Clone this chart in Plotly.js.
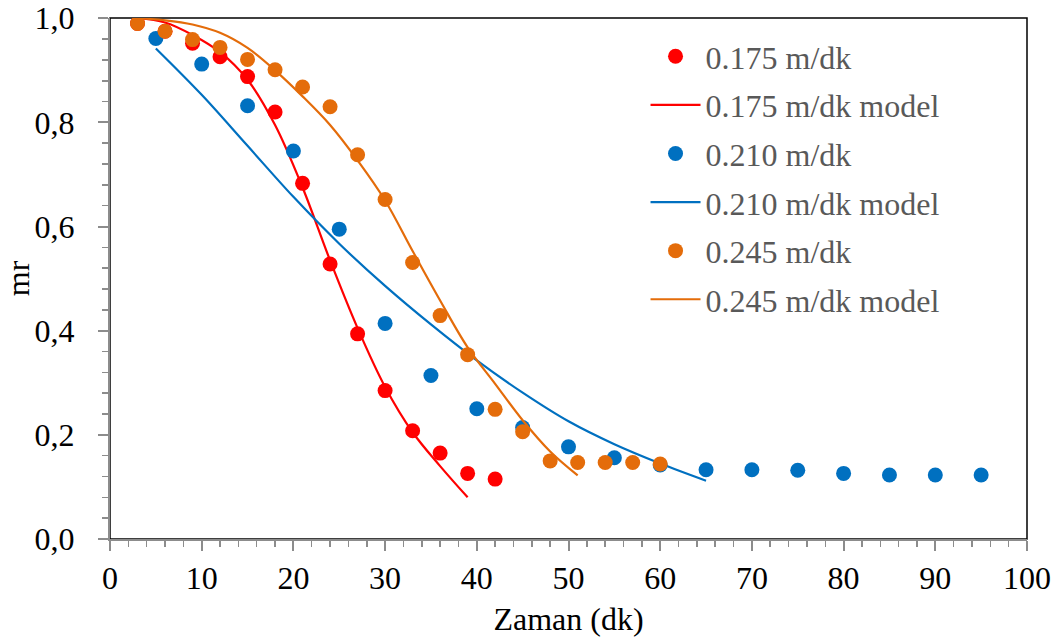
<!DOCTYPE html>
<html>
<head>
<meta charset="utf-8">
<script src="https://cdn.plot.ly/plotly-3.0.1.min.js"></script>
<style>html,body{margin:0;padding:0;background:#fff;}#chart{width:1057px;height:644px;}</style>
</head>
<body>
<div id="chart"></div>
<script>
// Experimental data
const x175 = [3, 6, 9, 12, 15, 18, 21, 24, 27, 30, 33, 36, 39, 42];
const y175 = [0.99, 0.975, 0.952, 0.926, 0.888, 0.820, 0.683, 0.528, 0.394, 0.285, 0.208, 0.165, 0.126, 0.115];
const x175m = [3, 6, 9, 12, 15, 18, 21, 24, 27, 30, 33, 36, 39];
const y175m = [1.0, 0.992, 0.968, 0.935, 0.882, 0.795, 0.675, 0.535, 0.405, 0.292, 0.205, 0.14, 0.08];

const x210 = [5, 10, 15, 20, 25, 30, 35, 40, 45, 50, 55, 60, 65, 70, 75, 80, 85, 90, 95];
const y210 = [0.961, 0.912, 0.832, 0.745, 0.595, 0.414, 0.314, 0.250, 0.214, 0.177, 0.156, 0.142, 0.133, 0.133, 0.132, 0.126, 0.123, 0.123, 0.123];
const x210m = [5, 10, 15, 20, 25, 30, 35, 40, 45, 50, 55, 60, 65];
const y210m = [0.942, 0.853, 0.755, 0.657, 0.567, 0.486, 0.412, 0.343, 0.281, 0.226, 0.182, 0.145, 0.112];

const x245 = [3, 6, 9, 12, 15, 18, 21, 24, 27, 30, 33, 36, 39, 42, 45, 48, 51, 54, 57, 60];
const y245 = [0.990, 0.975, 0.959, 0.944, 0.921, 0.901, 0.868, 0.830, 0.738, 0.652, 0.531, 0.429, 0.354, 0.249, 0.206, 0.150, 0.147, 0.147, 0.147, 0.144];
const x245m = [3, 6, 9, 12, 15, 18, 21, 24, 27, 30, 33, 36, 39, 42, 45, 48, 51];
const y245m = [1.0, 0.996, 0.988, 0.972, 0.943, 0.900, 0.850, 0.795, 0.727, 0.650, 0.553, 0.458, 0.368, 0.298, 0.228, 0.168, 0.122];

const names = ["0.175 m/dk", "0.175 m/dk model", "0.210 m/dk", "0.210 m/dk model", "0.245 m/dk", "0.245 m/dk model"];
const cRed = "#FF0000", cBlue = "#0070C0", cOrange = "#E46C0A";

const font = "Liberation Serif, Times New Roman, serif";
const FS = 32;
const mk = (x, y, name, color, g) => ({x, y, name, legendgroup: g, type: "scatter", mode: "markers",
  marker: {color, size: 15, line: {width: 0}}});
const ln = (x, y, name, color, g) => ({x, y, name, legendgroup: g, type: "scatter", mode: "lines",
  line: {color, width: 2.2, shape: "spline", smoothing: 1}});

const data = [
  mk(x175, y175, names[0], cRed, "a"),
  ln(x175m, y175m, names[1], cRed, "b"),
  mk(x210, y210, names[2], cBlue, "c"),
  ln(x210m, y210m, names[3], cBlue, "d"),
  mk(x245, y245, names[4], cOrange, "e"),
  ln(x245m, y245m, names[5], cOrange, "f")
];

const axisGray = "#8C8C8C";
const layout = {
  width: 1057, height: 644,
  margin: {l: 110, r: 30, t: 18, b: 105},
  paper_bgcolor: "#fff", plot_bgcolor: "#fff",
  separators: ", ",
  font: {family: font, size: FS, color: "#000"},
  showlegend: true,
  legend: {x: 0.584, y: 0.979, xanchor: "left", yanchor: "top",
    font: {family: font, size: FS, color: "#595959"},
    bgcolor: "rgba(0,0,0,0)", tracegroupgap: 4, itemwidth: 50},
  xaxis: {range: [0, 100], dtick: 10, tick0: 0, showgrid: false, zeroline: false,
    showline: true, linecolor: axisGray, linewidth: 2,
    ticks: "outside", ticklen: 10, tickwidth: 2, tickcolor: axisGray,
    minor: {dtick: 2, ticks: "outside", ticklen: 6, tickwidth: 1.5, tickcolor: axisGray, showgrid: false},
    tickfont: {family: font, size: FS, color: "#000"},
    ticklabeloverflow: "allow",
    title: {text: "Zaman (dk)", font: {family: font, size: FS, color: "#000"}, standoff: 12},
    fixedrange: true},
  yaxis: {range: [0, 1.0005], dtick: 0.2, tick0: 0, tickformat: ".1f", showgrid: false, zeroline: false,
    showline: true, linecolor: axisGray, linewidth: 2,
    ticks: "outside", ticklen: 10, tickwidth: 2, tickcolor: axisGray,
    minor: {dtick: 0.04, ticks: "outside", ticklen: 6, tickwidth: 1.5, tickcolor: axisGray, showgrid: false},
    tickfont: {family: font, size: FS, color: "#000"},
    ticklabelstandoff: 17, ticklabeloverflow: "allow",
    title: {text: "mr", font: {family: font, size: FS, color: "#000"}, standoff: 9},
    fixedrange: true},
  shapes: [{type: "rect", xref: "paper", yref: "paper", x0: 0, x1: 1, y0: 0, y1: 1,
    line: {color: "#000", width: 1.5}, layer: "below"}]
};

Plotly.newPlot("chart", data, layout, {displayModeBar: false, staticPlot: true});
</script>
</body>
</html>
